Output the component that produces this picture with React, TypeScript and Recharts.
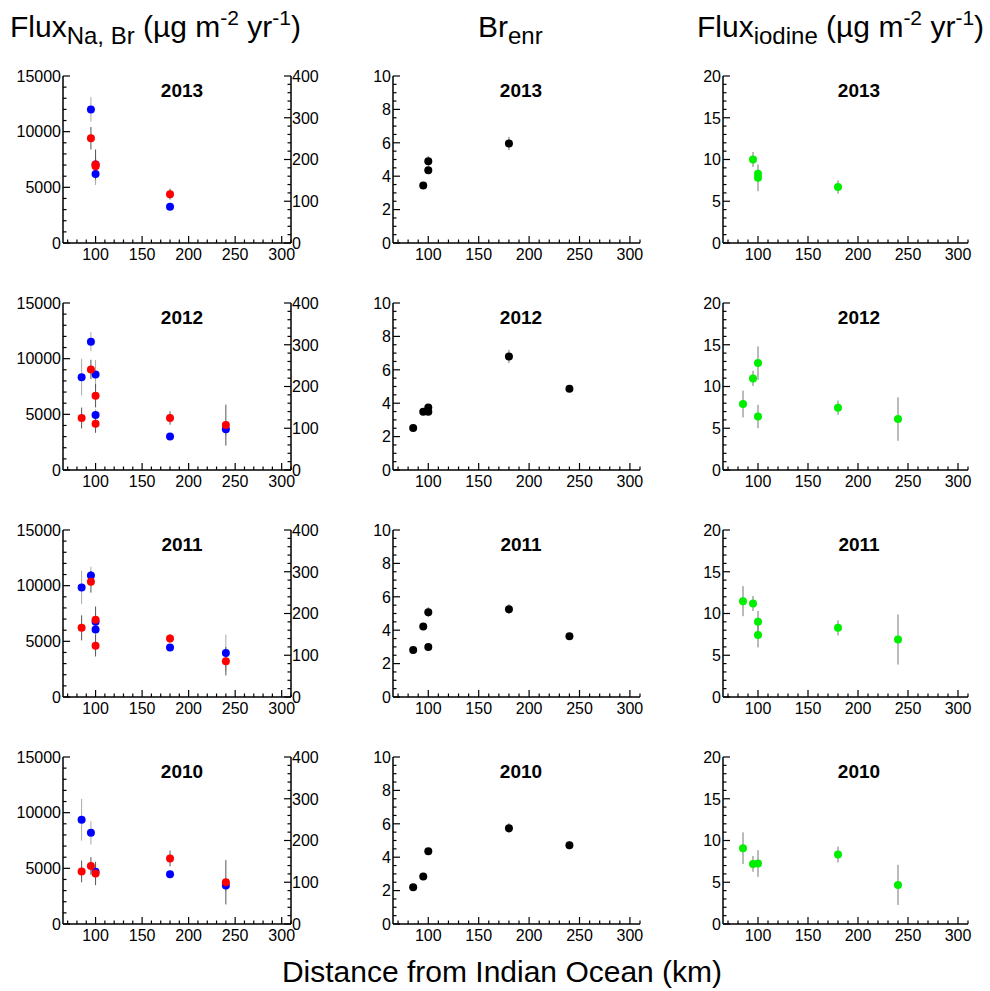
import { ScatterChart, Scatter, XAxis, YAxis, ErrorBar } from "recharts"

const FONT = "'Liberation Sans', Arial, Helvetica, sans-serif"

// rows top to bottom
const years = ["2013", "2012", "2011", "2010"]

// distance of each site from the Indian Ocean (km)
const distance = [
  [95, 100, 100, 180],
  [85, 95, 100, 100, 180, 240],
  [85, 95, 100, 100, 180, 240],
  [85, 95, 100, 180, 240],
]

// Na flux, left axis (µg m-2 yr-1)
const naFlux = [
  [12000, 7050, 6200, 3250],
  [8340, 11530, 8580, 4940, 3010, 3670],
  [9840, 10920, 6060, 6750, 4440, 3960],
  [9360, 8190, 4700, 4470, 3450],
]
const naErr = [
  [1100, 300, 1000, 200],
  [1650, 860, 1300, 500, 200, 600],
  [1500, 780, 600, 400, 300, 1650],
  [1875, 1050, 400, 300, 500],
]

// Br flux, right axis (µg m-2 yr-1)
const brFlux = [
  [251, 188, 184, 117],
  [124.5, 241, 178, 111, 124.5, 107.6],
  [165.6, 276, 184.8, 123, 140, 85.6],
  [126, 139, 121, 157, 100],
]
const brErr = [
  [27, 36, 20, 13],
  [25, 23, 28, 22, 16, 49],
  [30, 26, 32, 26, 10, 34],
  [26, 21, 28, 19, 53],
]

// Br enrichment
const brEnr = [
  [3.45, 4.36, 4.9, 5.96],
  [2.51, 3.49, 3.49, 3.75, 6.8, 4.87],
  [2.82, 4.22, 5.08, 3.0, 5.26, 3.64],
  [2.2, 2.84, 4.36, 5.74, 4.72],
]
const brEnrErr = [
  [0.1, 0.15, 0.3, 0.4],
  [0.1, 0.1, 0.1, 0.15, 0.4, 0.2],
  [0.1, 0.1, 0.3, 0.1, 0.3, 0.1],
  [0.1, 0.1, 0.15, 0.3, 0.25],
]

// iodine flux (µg m-2 yr-1)
const iodine = [
  [10.0, 8.3, 7.8, 6.7],
  [7.9, 10.97, 12.8, 6.4, 7.46, 6.1],
  [11.48, 11.2, 9.0, 7.44, 8.28, 6.88],
  [9.08, 7.2, 7.24, 8.32, 4.68],
]
const iodineErr = [
  [0.9, 0.4, 1.6, 0.8],
  [1.6, 0.9, 2.0, 1.4, 0.85, 2.6],
  [1.8, 0.9, 1.3, 1.5, 0.9, 3.0],
  [1.9, 0.95, 1.6, 0.94, 2.4],
]

const xTicks = [70, 80, 90, 100, 110, 120, 130, 140, 150, 160, 170, 180, 190, 200, 210, 220, 230, 240, 250, 260, 270, 280, 290, 300, 310]
const naTicks = [0, 1000, 2000, 3000, 4000, 5000, 6000, 7000, 8000, 9000, 10000, 11000, 12000, 13000, 14000, 15000]
const brTicks = [0, 20, 40, 60, 80, 100, 120, 140, 160, 180, 200, 220, 240, 260, 280, 300, 320, 340, 360, 380, 400]
const enrTicks = [0, 0.5, 1, 1.5, 2, 2.5, 3, 3.5, 4, 4.5, 5, 5.5, 6, 6.5, 7, 7.5, 8, 8.5, 9, 9.5, 10]
const iodTicks = [0, 1, 2, 3, 4, 5, 6, 7, 8, 9, 10, 11, 12, 13, 14, 15, 16, 17, 18, 19, 20]

const COL_X = [[63, 291], [393, 640], [723, 968]]
const ROW_Y = [76, 303, 530, 757]
const PLOT_H = 167
const TITLE_X = [182, 521, 859]

const rows = (vals: number[][], errs: number[][], r: number) =>
  distance[r].map((d, i) => ({ x: d, y: vals[r][i], e: errs[r][i] }))

const bottomTick = (props: any) => {
  const { x, y, payload } = props
  const v = payload.value
  const major = v % 50 === 0
  return (
    <g>
      <line x1={x} x2={x} y1={y} y2={y - (major ? 7 : 3.5)} stroke="#000" strokeWidth={1.2} />
      {major && (
        <text x={x} y={y + 17} textAnchor="middle" fontSize={16} fontFamily={FONT} fill="#000">
          {v}
        </text>
      )}
    </g>
  )
}

const leftTick = (step: number) => (props: any) => {
  const { x, y, payload } = props
  const v = payload.value
  const major = v % step === 0
  return (
    <g>
      <line x1={x} x2={x + (major ? 7 : 3.5)} y1={y} y2={y} stroke="#000" strokeWidth={1.2} />
      {major && (
        <text x={x - 2} y={y} dy="0.36em" textAnchor="end" fontSize={16} fontFamily={FONT} fill="#000">
          {v}
        </text>
      )}
    </g>
  )
}

const rightTick = (props: any) => {
  const { x, y, payload } = props
  const v = payload.value
  const major = v % 100 === 0
  return (
    <g>
      <line x1={x} x2={x - (major ? 7 : 3.5)} y1={y} y2={y} stroke="#000" strokeWidth={1.2} />
      {major && (
        <text x={x + 1} y={y} dy="0.36em" textAnchor="start" fontSize={16} fontFamily={FONT} fill="#000">
          {v}
        </text>
      )}
    </g>
  )
}

const dot = (color: string) => (p: any) => <circle cx={p.cx} cy={p.cy} r={4} fill={color} />

const axisLine = { stroke: "#000", strokeWidth: 1.5 }

function Panel({ row, col }: { row: number; col: number }) {
  const [pl, pr] = COL_X[col]
  const top = ROW_Y[row]
  const yW = 60
  const rW = 45
  const mt = 10
  const xH = 30
  const width = yW + (pr - pl) + rW
  const height = mt + PLOT_H + xH

  return (
    <div style={{ position: "absolute", left: pl - yW, top: top - mt }}>
      <ScatterChart width={width} height={height} margin={{ top: mt, right: col === 0 ? 0 : rW, bottom: 0, left: 0 }}>
        <XAxis
          type="number"
          dataKey="x"
          domain={[65, 310]}
          ticks={xTicks}
          interval={0}
          tickSize={0}
          tickMargin={0}
          tickLine={false}
          tick={bottomTick}
          height={xH}
          axisLine={axisLine}
          allowDataOverflow
        />
        {col === 0 && (
          <YAxis yAxisId="l" type="number" dataKey="y" domain={[0, 15000]} ticks={naTicks} interval={0} width={yW}
            tickSize={0} tickMargin={0} tickLine={false} tick={leftTick(5000)} axisLine={axisLine} allowDataOverflow />
        )}
        {col === 0 && (
          <YAxis yAxisId="r" orientation="right" type="number" dataKey="y" domain={[0, 400]} ticks={brTicks} interval={0} width={rW}
            tickSize={0} tickMargin={0} tickLine={false} tick={rightTick} axisLine={axisLine} allowDataOverflow />
        )}
        {col === 1 && (
          <YAxis yAxisId="l" type="number" dataKey="y" domain={[0, 10]} ticks={enrTicks} interval={0} width={yW}
            tickSize={0} tickMargin={0} tickLine={false} tick={leftTick(2)} axisLine={axisLine} allowDataOverflow />
        )}
        {col === 2 && (
          <YAxis yAxisId="l" type="number" dataKey="y" domain={[0, 20]} ticks={iodTicks} interval={0} width={yW}
            tickSize={0} tickMargin={0} tickLine={false} tick={leftTick(5)} axisLine={axisLine} allowDataOverflow />
        )}

        {col === 0 && (
          <Scatter yAxisId="l" data={rows(naFlux, naErr, row)} shape={dot("#0000ff")} isAnimationActive={false}>
            <ErrorBar dataKey="e" direction="y" width={0} stroke="#aaaaaa" strokeWidth={1} isAnimationActive={false} />
          </Scatter>
        )}
        {col === 0 && (
          <Scatter yAxisId="r" data={rows(brFlux, brErr, row)} shape={dot("#ff0000")} isAnimationActive={false}>
            <ErrorBar dataKey="e" direction="y" width={0} stroke="#555555" strokeWidth={1} isAnimationActive={false} />
          </Scatter>
        )}
        {col === 1 && (
          <Scatter yAxisId="l" data={rows(brEnr, brEnrErr, row)} shape={dot("#000000")} isAnimationActive={false}>
            <ErrorBar dataKey="e" direction="y" width={0} stroke="#777777" strokeWidth={1} isAnimationActive={false} />
          </Scatter>
        )}
        {col === 2 && (
          <Scatter yAxisId="l" data={rows(iodine, iodineErr, row)} shape={dot("#00ee00")} isAnimationActive={false}>
            <ErrorBar dataKey="e" direction="y" width={0} stroke="#777777" strokeWidth={1} isAnimationActive={false} />
          </Scatter>
        )}
      </ScatterChart>
      <div
        style={{
          position: "absolute",
          left: TITLE_X[col] - (pl - yW) - 50,
          top: mt + 4,
          width: 100,
          textAlign: "center",
          fontSize: 19,
          fontWeight: "bold",
          lineHeight: "22px",
          fontFamily: FONT,
        }}
      >
        {years[row]}
      </div>
    </div>
  )
}

export default function App() {
  const sub = { fontSize: 24, verticalAlign: "-0.3em", lineHeight: 0 }
  const sup = { fontSize: 21, verticalAlign: "0.55em", lineHeight: 0 }
  return (
    <div style={{ position: "absolute", left: 0, top: 0, width: 990, height: 991, background: "#fff", fontFamily: FONT, color: "#000" }}>
      <div style={{ position: "absolute", left: 10, top: 10, fontSize: 30, lineHeight: "34px", whiteSpace: "nowrap" }}>
        Flux<span style={sub}>Na, Br</span> (µg m<span style={sup}>-2</span> yr<span style={sup}>-1</span>)
      </div>
      <div style={{ position: "absolute", left: 478, top: 10, fontSize: 30, lineHeight: "34px", whiteSpace: "nowrap" }}>
        Br<span style={sub}>enr</span>
      </div>
      <div style={{ position: "absolute", left: 697, top: 10, fontSize: 30, lineHeight: "34px", whiteSpace: "nowrap" }}>
        Flux<span style={sub}>iodine</span> (µg m<span style={sup}>-2</span> yr<span style={sup}>-1</span>)
      </div>
      {years.map((_, r) => [0, 1, 2].map((c) => <Panel key={`${r}-${c}`} row={r} col={c} />))}
      <div style={{ position: "absolute", left: 7, width: 990, top: 955, textAlign: "center", fontSize: 30, lineHeight: "34px" }}>
        Distance from Indian Ocean (km)
      </div>
    </div>
  )
}
